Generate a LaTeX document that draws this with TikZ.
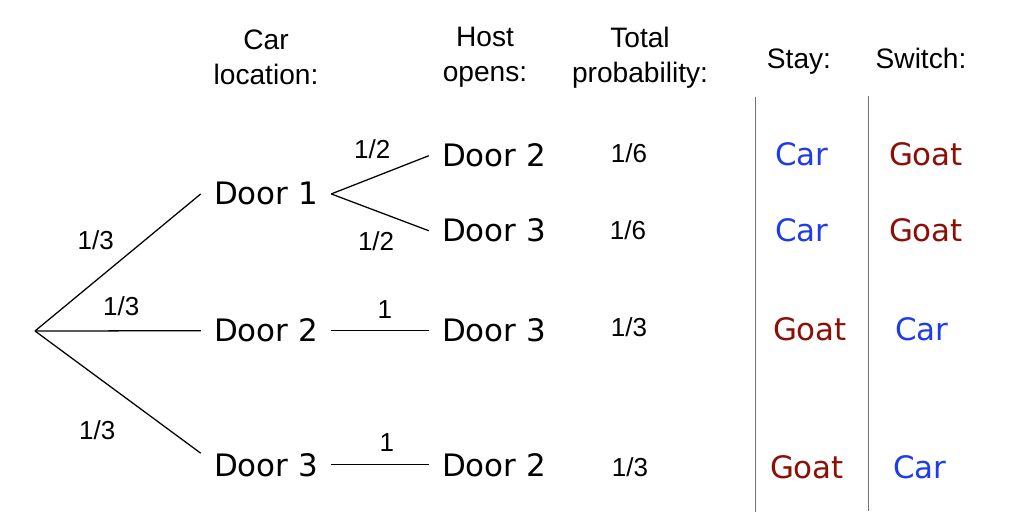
\documentclass[tikz,border=0pt]{standalone}
\usepackage{fontspec}
\setmainfont{Liberation Sans}
\newfontfamily\doorfont{DejaVu Sans}
\definecolor{carblue}{RGB}{30,60,235}
\definecolor{goatred}{RGB}{140,15,5}

\begin{document}
\begin{tikzpicture}[x=0.025cm, y=-0.025cm, line width=0.9pt,
    door/.style = {font=\doorfont\fontsize{22}{26}\selectfont, anchor=base, inner xsep=9pt},
    head/.style = {font=\fontsize{20}{25}\selectfont, align=center},
    prob/.style = {font=\fontsize{18.5}{22}\selectfont, inner sep=2pt},
    car/.style = {door, text=carblue},
    goat/.style = {door, text=goatred},
    rule/.style = {draw=black!55, line width=0.7pt}]

        \useasboundingbox (0,0) rectangle (1012,530);

        % column heads
        \node[head] (hc) at (266,57) {Car\\location:};
        \node[head] (hh) at (485,57) {Host\\opens:};
        \node[head] (ht) at (640,58) {Total\\probability:};
        \node[head, anchor=base] (hs) at (799,69) {Stay:};
        \node[head, anchor=base] (hw) at (921,69) {Switch:};

        % tree
        \coordinate (0) at (35,331);
        \node[door] (1) at (266,205) {Door 1};
        \node[door] (2) at (266,342) {Door 2};
        \node[door] (3) at (266,476) {Door 3};
        \node[door] (4) at (494,167) {Door 2};
        \node[door] (5) at (494,242) {Door 3};
        \node[door] (6) at (494,342) {Door 3};
        \node[door] (7) at (494,476) {Door 2};

        \draw (0) -- node[prob, pos=0.53, above left=4pt]{1/3} (1.west);
        \draw (0) -- node[prob, pos=0.52, above=8pt]{1/3} (2.west);
        \draw (0) -- node[prob, pos=0.59, below left=10pt]{1/3} (3.170);
        \draw (1.east) -- node[prob, pos=0.42, above=11pt]{1/2} (4.west);
        \draw (1.east) -- node[prob, pos=0.46, below=12pt]{1/2} (5.west);
        \draw (2.east) -- node[prob, pos=0.55, above=6pt]{1} (6.west);
        \draw (3.east) -- node[prob, pos=0.57, above=7pt]{1} (7.west);

        % total probability
        \node[prob, anchor=base] (p4) at (629,163) {1/6};
        \node[prob, anchor=base] (p5) at (628,240) {1/6};
        \node[prob, anchor=base] (p6) at (629,337) {1/3};
        \node[prob, anchor=base] (p7) at (630,476) {1/3};

        % stay / switch
        \draw[rule] (755.7,97) -- (755.7,512);
        \draw[rule] (868.3,96) -- (868.3,511);

        \node[car] (s4) at (802,166) {Car};
        \node[car] (s5) at (802,242) {Car};
        \node[goat] (s6) at (810,341) {Goat};
        \node[goat] (s7) at (807,478) {Goat};
        \node[goat] (w4) at (926,166) {Goat};
        \node[goat] (w5) at (926,242) {Goat};
        \node[car] (w6) at (922,341) {Car};
        \node[car] (w7) at (920,478) {Car};

\end{tikzpicture}
\end{document}
